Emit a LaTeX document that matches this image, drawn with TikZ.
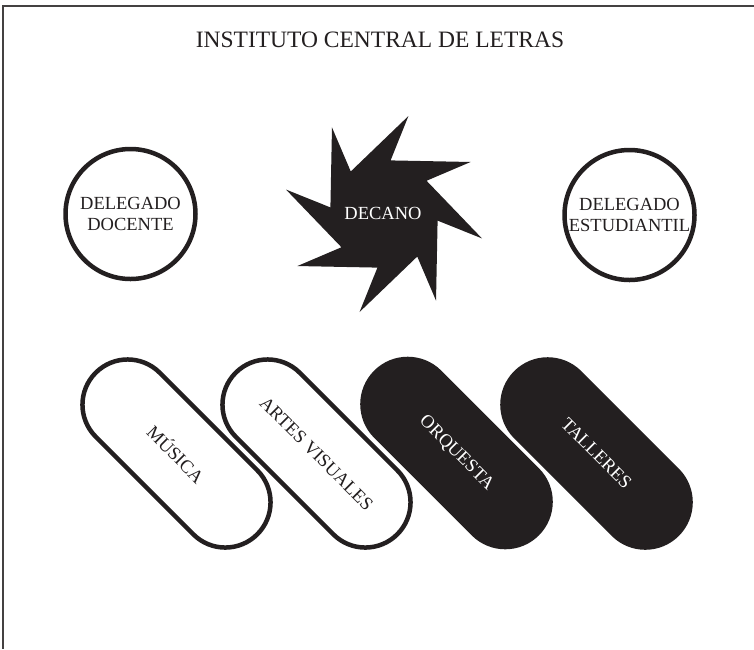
\documentclass[tikz,border=0pt]{standalone}
\usepackage{fontspec}
\setmainfont{Liberation Serif}
\usetikzlibrary{shapes.misc}
\definecolor{ink}{RGB}{35,31,32}
\begin{document}
\begin{tikzpicture}[x=1pt,y=1pt,
  lbl/.style={font=\fontsize{18.5}{21.5}\selectfont, align=center},
  ring/.style={circle, draw=ink, line width=4.5pt, minimum size=130pt, inner sep=0pt, lbl, text=ink},
  pillw/.style={rounded rectangle, draw=ink, line width=4.5pt, fill=white, minimum width=228.5pt, minimum height=90.5pt, inner sep=0pt, rotate=-45, lbl, text=ink},
  pillb/.style={rounded rectangle, fill=ink, minimum width=233pt, minimum height=95pt, inner sep=0pt, rotate=-45, lbl, text=white},
  frame/.style={draw=ink!85, line width=1.5pt}
]
\useasboundingbox (0,0) rectangle (754,-649);
\fill[white] (0,0) rectangle (754,-649);
\coordinate (tr) at (754,-6);
\coordinate (tl) at (3,-6);
\coordinate (bl) at (3,-649);
\draw[frame] (tr) -- (tl) -- (bl);

\node[anchor=base, font=\fontsize{23.5}{28}\selectfont, text=ink] (title) at (380,-47) {INSTITUTO CENTRAL DE LETRAS};

\node[ring] (docente) at (130.5,-214) {DELEGADO\\DOCENTE};
\node[ring] (estudiantil) at (629.5,-215) {DELEGADO\\ESTUDIANTIL};

\begin{scope}[shift={(384,-214)}]
\fill[ink] (76:101) -- (83:54) -- (31:101) -- (38:54) -- (-14:101) -- (-7:54)
  -- (-59:101) -- (-52:54) -- (-104:101) -- (-97:54) -- (-149:101) -- (-142:54)
  -- (-194:101) -- (-187:54) -- (-239:101) -- (-232:54) -- cycle;
\end{scope}
\node[lbl, text=white] (decano) at (383,-213) {DECANO};

\node[pillw] (musica) at (176.5,-453.5) {MÚSICA};
\node[pillw] (artes) at (316.5,-453.5) {ARTES VISUALES};
\node[pillb] (orquesta) at (456.5,-453) {ORQUESTA};
\node[pillb] (talleres) at (596.5,-453.5) {TALLERES};
\end{tikzpicture}
\end{document}
